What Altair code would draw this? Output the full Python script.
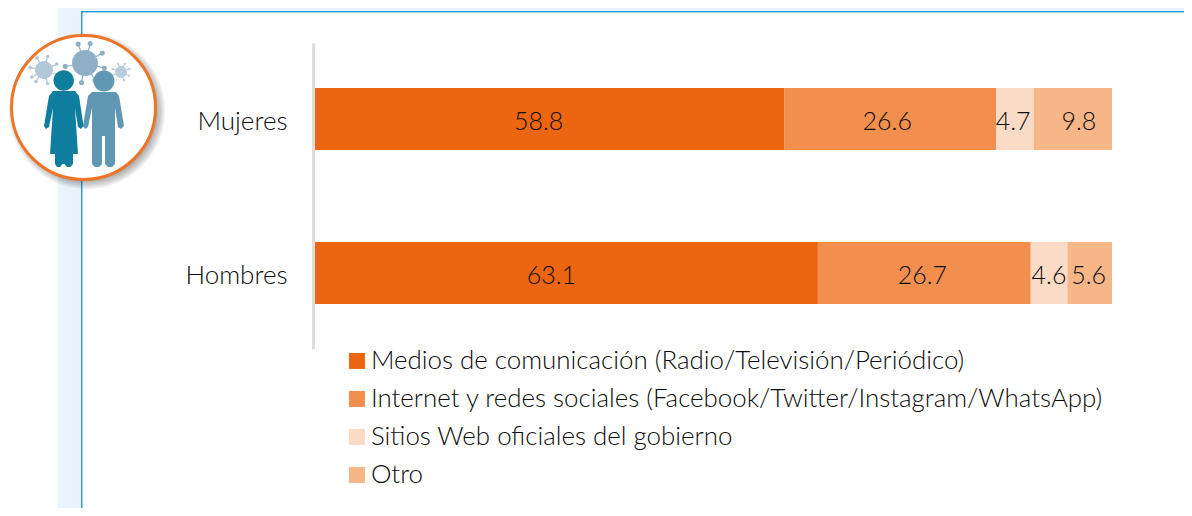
import altair as alt
import math
import pandas as pd

groups = ["Mujeres", "Hombres"]
series = [
    "Medios de comunicación (Radio/Televisión/Periódico)",
    "Internet y redes sociales (Facebook/Twitter/Instagram/WhatsApp)",
    "Sitios Web oficiales del gobierno",
    "Otro",
]
mujeres = [58.8, 26.6, 4.7, 9.8]
hombres = [63.1, 26.7, 4.6, 5.6]
colors = ["#EC6611", "#F28F4F", "#FCDBC6", "#F6B688"]
FONT = "Lato"
FS = 25
AFS = 26
LFS = 25.9
WEIGHT = 300
INK = "#0c0c0c"

rows = []
for g, vals in zip(groups, [mujeres, hombres]):
    total = sum(vals)
    run = 0
    for i, (s, v) in enumerate(zip(series, vals)):
        rows.append(dict(group=g, serie=s, value=v, idx=i, mid=(run + v / 2) / total, label=f"{v:.1f}"))
        run += v
df = pd.DataFrame(rows)

W, H = 1176, 500


def circ(cx, cy, r):
    return f"M{cx-r},{cy}A{r},{r} 0 1,0 {cx+r},{cy}A{r},{r} 0 1,0 {cx-r},{cy}Z"


def rect(x0, y0, x1, y1):
    return f"M{x0},{y0}L{x1},{y0}L{x1},{y1}L{x0},{y1}Z"


def shape(path, fill=None, stroke=None, sw=1, op=1):
    kw = dict(shape=path, size=4, opacity=op, filled=fill is not None)
    if fill is not None:
        kw["fill"] = fill
        kw["strokeWidth"] = 0
    if stroke is not None:
        kw["stroke"] = stroke
        kw["strokeWidth"] = sw
    return alt.Chart(pd.DataFrame({"k": [0]})).mark_point(**kw).encode(x=alt.value(0), y=alt.value(0))


def virus(cx, cy, r, spike, knob, color, angles):
    parts = []
    for a in angles:
        t = math.radians(a)
        ex, ey = cx + spike * math.cos(t), cy + spike * math.sin(t)
        nx, ny = -math.sin(t) * 0.6, math.cos(t) * 0.6
        parts.append(f"M{cx+nx},{cy+ny}L{ex+nx},{ey+ny}L{ex-nx},{ey-ny}L{cx-nx},{cy-ny}Z")
        parts.append(circ(ex, ey, knob))
    parts.append(circ(cx, cy, r))
    return shape("".join(parts), fill=color)


ox, oy = -8, -8  # page margin


def P(x, y):
    return f"{x+ox},{y+oy}"


def poly(pts):
    return "M" + "L".join(P(*p) for p in pts) + "Z"


deco = [
    shape(rect(58 + ox, 0, W, 11 + oy), fill="#E9F3FB"),
    shape(rect(58 + ox, 0, 81 + ox, H), fill="#E9F3FB"),
    shape(rect(81 + ox, 11 + oy, W, 12.5 + oy) + rect(81 + ox, 11 + oy, 82.5 + ox, H), fill="#2A9FD6"),
]
for k in range(7):
    deco.append(shape(circ(87 + ox, 111 + oy, 78 - k * 1.5), fill="#303030", op=0.07))
deco.append(shape(circ(83.5 + ox, 107.5 + oy, 72), fill="#FFFFFF", stroke="#EE7427", sw=3))
deco.append(virus(85 + ox, 63 + oy, 13, 20, 2.6, "#8FB0C4", [-110, -75, -30, 15, 60, 100, 170]))
deco.append(virus(44 + ox, 70 + oy, 9, 14, 1.8, "#B2C8D8", [-120, -75, -25, 20, 75, 125, 150, 190]))
deco.append(virus(121 + ox, 72 + oy, 6, 9, 1.1, "#B9CEDB", [-110, -65, -20, 25, 70, 160, 200]))

woman = (
    circ(63.7 + ox, 80.5 + oy, 10.2)
    + poly([(53, 91), (75, 91), (79, 96), (83.5, 126), (81, 129), (78, 127), (75, 108),
            (78, 154), (73, 154), (73, 164), (70, 167), (67, 167), (64.5, 164), (62.5, 164),
            (60, 167), (57, 167), (55, 164), (55, 154), (50, 154), (53, 108), (49, 127),
            (46, 129), (44, 126), (49, 96)])
)
man = (
    circ(104 + ox, 81 + oy, 10.5)
    + poly([(92, 92), (116, 92), (119, 96), (124, 126), (121, 129), (118, 127), (115, 108),
            (115, 164), (112, 167), (108, 167), (105, 164), (105, 136), (102, 136), (102, 164),
            (99, 167), (95, 167), (92, 164), (92, 108), (88, 127), (85, 129), (83, 126), (88, 96)])
)
deco.append(shape(man, fill="#6097B2"))
deco.append(shape(woman, fill="#0F7D9E"))

x_scale = alt.Scale(domain=[0, 1], range=[315 + ox, 1112 + ox], nice=False, zero=False)
y_scale = alt.Scale(domain=groups, range=[43 + oy, 349 + oy], paddingInner=0.597, paddingOuter=0.292)

bars = (
    alt.Chart(df)
    .mark_bar()
    .encode(
        x=alt.X("value:Q", stack="normalize", scale=x_scale, axis=None),
        y=alt.Y(
            "group:N",
            scale=y_scale,
            sort=groups,
            title=None,
            axis=alt.Axis(
                orient="left", offset=-305, ticks=False, grid=False, domainColor="#DDDDDD", domainWidth=3,
                labelFont=FONT, labelFontSize=AFS, labelFontWeight=WEIGHT, labelColor=INK, labelPadding=26,
                labelLimit=200, labelOffset=3,
            ),
        ),
        color=alt.Color(
            "serie:N",
            scale=alt.Scale(domain=series, range=colors),
            legend=alt.Legend(
                orient="none", legendX=344 + ox, legendY=348 + oy, title=None, symbolType="square",
                symbolSize=256, symbolStrokeWidth=0, symbolOpacity=1, labelFont=FONT, labelFontSize=LFS,
                labelFontWeight=WEIGHT, labelColor=INK, labelLimit=900, labelOffset=1, rowPadding=11, padding=0,
            ),
        ),
        order=alt.Order("idx:Q"),
    )
)
# the reference sets a few labels away from their segment's centre
label_shift = {
    ("Mujeres", 0): -11, ("Hombres", 0): -15, ("Mujeres", 1): -3, ("Mujeres", 2): -2,
    ("Mujeres", 3): 6, ("Hombres", 1): -2, ("Hombres", 3): -1,
}
df["dx"] = [label_shift.get((g, i), 0) for g, i in zip(df["group"], df["idx"])]
texts = []
for d in sorted(df["dx"].unique()):
    texts.append(
        alt.Chart(df[df["dx"] == d].drop(columns=["dx"]))
        .mark_text(font=FONT, fontSize=FS, fontWeight=WEIGHT, color=INK, baseline="middle", dy=3, dx=int(d))
        .encode(
            x=alt.X("mid:Q", scale=x_scale, axis=None),
            y=alt.Y("group:N", scale=y_scale, sort=groups, title=None),
            text="label:N",
        )
    )

chart = (
    alt.layer(*deco, bars, *texts)
    .properties(width=W, height=H, padding=0, autosize=alt.AutoSizeParams(type="none"), background="white")
    .configure_view(stroke=None)
)
chart.save("out.html", embed_options={"renderer": "svg", "actions": False})
